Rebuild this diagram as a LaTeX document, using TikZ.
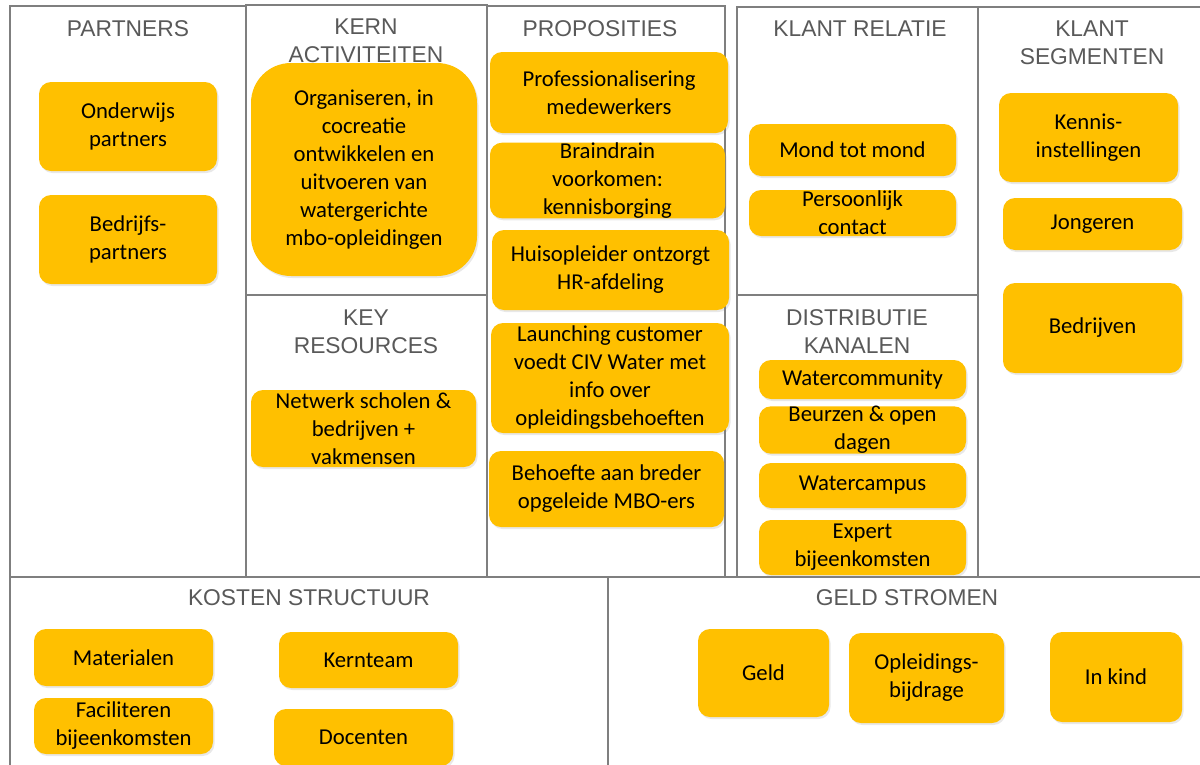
\documentclass[tikz,border=0pt]{standalone}
\usepackage{fontspec}
\setmainfont{Carlito}
\newfontfamily\hdrfont{Liberation Sans}
\usetikzlibrary{shadows}
\definecolor{gridgray}{HTML}{7F7F7F}
\definecolor{hdrgray}{HTML}{595959}
\definecolor{boxfill}{HTML}{FFC000}
\begin{document}
\begin{tikzpicture}[x=1pt,y=-1pt,
  cell/.style={draw=gridgray, line width=2.8pt},
  hdr/.style={font=\hdrfont\fontsize{22.8}{27.5}\selectfont, text=hdrgray, align=center, anchor=base, inner sep=0pt},
  card/.style={fill=boxfill, rounded corners=12pt, align=center, inner sep=0pt,
    font=\fontsize{22.7}{28}\selectfont, text=black,
    drop shadow={shadow xshift=1.5pt, shadow yshift=-2pt, opacity=0.18}},
  bigcard/.style={card, rounded corners=40pt},
]
\useasboundingbox (0,0) rectangle (1200,764);
\clip (0,0) rectangle (1200,764);
\fill[white] (0,0) rectangle (1200,764);

% grid cells
\draw[cell] (10,6) rectangle (246,577);
\draw[cell] (246,5) rectangle (487,295);
\draw[cell] (246,295) rectangle (487,577);
\draw[cell] (487,6) rectangle (725,577);
\draw[cell] (737,7) rectangle (978,295);
\draw[cell] (737,295) rectangle (978,577);
\draw[cell] (978,7) rectangle (1210,577);
\draw[cell] (10,577) rectangle (608,775);
\draw[cell] (608,577) rectangle (1210,775);

% headers (anchor=base is the baseline of the last line)
\node[hdr] (hpartners) at (128,36) {PARTNERS};
\node[hdr] (hkern) at (366,62) {KERN\\ACTIVITEITEN};
\node[hdr] (hprop) at (600,36) {PROPOSITIES};
\node[hdr] (hrel) at (860,36) {KLANT RELATIE};
\node[hdr] (hseg) at (1092,64) {KLANT\\SEGMENTEN};
\node[hdr] (hkey) at (366,353) {KEY\\RESOURCES};
\node[hdr] (hdist) at (857,353) {DISTRIBUTIE\\KANALEN};
\node[hdr] (hkost) at (309,605) {KOSTEN STRUCTUUR};
\node[hdr] (hgeld) at (907,605) {GELD STROMEN};

% partners
\node[card, minimum width=178pt, minimum height=89pt] (onderwijs) at (128,126.5) {Onderwijs\\partners};
\node[card, minimum width=178pt, minimum height=89pt] (bedrijfs) at (128,239.5) {Bedrijfs-\\partners};

% kern activiteiten
\node[bigcard, minimum width=226pt, minimum height=213pt] (kern) at (364,169.5) {Organiseren, in\\cocreatie\\ontwikkelen en\\uitvoeren van\\watergerichte\\mbo-opleidingen};

% key resources
\node[card, minimum width=225pt, minimum height=77pt] (netwerk) at (363.5,428.5) {Netwerk scholen \&\\bedrijven +\\vakmensen};

% proposities
\node[card, minimum width=238pt, minimum height=81pt] (prof) at (609,92.5) {Professionalisering\\medewerkers};
\node[card, minimum width=235pt, minimum height=75pt] (brain) at (607.5,180.5) {Braindrain\\voorkomen:\\kennisborging};
\node[card, minimum width=237pt, minimum height=80pt] (huis) at (610.5,270) {Huisopleider ontzorgt\\HR-afdeling};
\node[card, minimum width=238pt, minimum height=110pt] (launch) at (610,378) {Launching customer\\voedt CIV Water met\\info over\\opleidingsbehoeften};
\node[card, minimum width=235pt, minimum height=76pt] (behoefte) at (606.5,489) {Behoefte aan breder\\opgeleide MBO-ers};

% klant relatie
\node[card, minimum width=207pt, minimum height=52pt] (mond) at (852.5,150) {Mond tot mond};
\node[card, minimum width=207pt, minimum height=46pt] (pers) at (852.5,213) {Persoonlijk\\contact};

% distributie kanalen
\node[card, minimum width=207pt, minimum height=39pt] (wcomm) at (862.5,379.5) {Watercommunity};
\node[card, minimum width=207pt, minimum height=44pt] (beurzen) at (862.5,430) {Beurzen \& open\\dagen};
\node[card, minimum width=207pt, minimum height=45pt] (wcamp) at (862.5,485.5) {Watercampus};
\node[card, minimum width=207pt, minimum height=55pt] (expert) at (862.5,547.5) {Expert\\bijeenkomsten};

% klant segmenten
\node[card, minimum width=179pt, minimum height=89pt] (kennis) at (1088.5,137.5) {Kennis-\\instellingen};
\node[card, minimum width=179pt, minimum height=52pt] (jong) at (1092.5,224) {Jongeren};
\node[card, minimum width=179pt, minimum height=90pt] (bedr) at (1092.5,328) {Bedrijven};

% kosten structuur
\node[card, minimum width=179pt, minimum height=57pt] (mat) at (123.5,657.5) {Materialen};
\node[card, minimum width=179pt, minimum height=56pt] (fac) at (123.5,726) {Faciliteren\\bijeenkomsten};
\node[card, minimum width=179pt, minimum height=56pt] (kernteam) at (368.5,660) {Kernteam};
\node[card, minimum width=179pt, minimum height=57pt] (doc) at (363.5,737.5) {Docenten};

% geld stromen
\node[card, minimum width=131pt, minimum height=88pt] (geld) at (763.5,673) {Geld};
\node[card, minimum width=155pt, minimum height=90pt] (opl) at (926.5,678) {Opleidings-\\bijdrage};
\node[card, minimum width=132pt, minimum height=90pt] (inkind) at (1116,677) {In kind};
\end{tikzpicture}
\end{document}
